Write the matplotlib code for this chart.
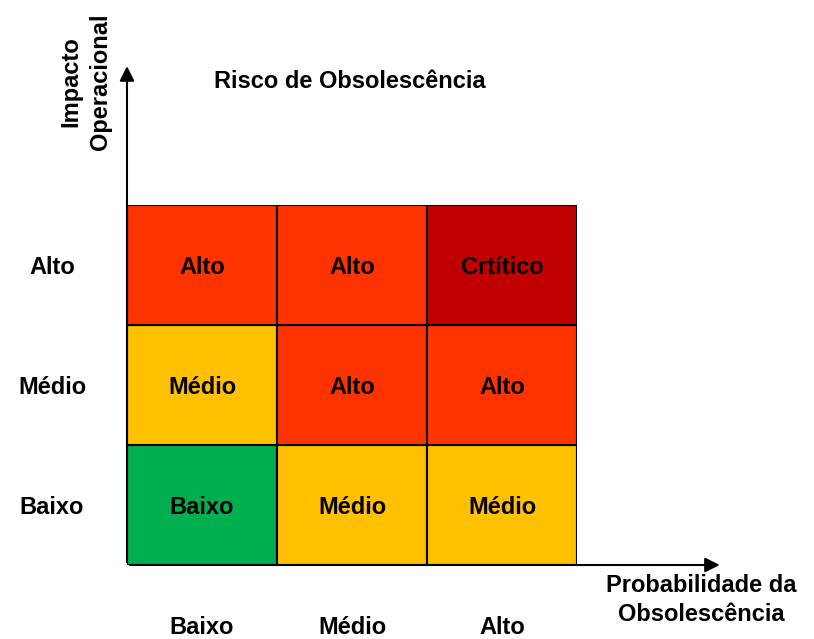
import matplotlib
matplotlib.use('Agg')
import matplotlib.pyplot as plt
from matplotlib.patches import Rectangle

# risk matrix data
prob_labels = ['Baixo', 'Médio', 'Alto']      # columns (x)
impact_labels = ['Baixo', 'Médio', 'Alto']    # rows (y), bottom to top
cell_text = [['Baixo', 'Médio', 'Médio'],
             ['Médio', 'Alto', 'Alto'],
             ['Alto', 'Alto', 'Crtítico']]
level_colors = {'Baixo': '#00B050', 'Médio': '#FFC000',
                'Alto': '#FF3300', 'Crtítico': '#C00000'}

plt.rcParams['font.family'] = ['Liberation Sans', 'DejaVu Sans']
plt.rcParams['font.weight'] = 'bold'
fs = 17

fig = plt.figure(figsize=(8.14, 6.39), dpi=100)
W, H = 814, 639
ax = fig.add_axes([127 / W, 74 / H, 450 / W, 360 / H])
ax.set_xlim(0, 3)
ax.set_ylim(0, 3)
ax.axis('off')

dy = 0.022  # small nudge so text sits like the original
for r in range(3):
    for c in range(3):
        t = cell_text[r][c]
        ax.add_patch(Rectangle((c, r), 1, 1, facecolor=level_colors[t],
                               edgecolor='black', linewidth=1.5))
        ax.text(c + 0.5, r + 0.5 - dy, t, ha='center', va='center', fontsize=fs)

# row and column labels
for i, lab in enumerate(impact_labels):
    ax.text(-0.5, i + 0.5 - dy, lab, ha='center', va='center', fontsize=fs, clip_on=False)
for i, lab in enumerate(prob_labels):
    ax.text(i + 0.5, -0.52, lab, ha='center', va='center', fontsize=fs, clip_on=False)

# axis arrows
ax.annotate('', xy=(0, 4.18), xytext=(0, 0), annotation_clip=False,
            arrowprops=dict(arrowstyle='-|>', color='black', lw=1.5, mutation_scale=22))
ax.annotate('', xy=(3.97, 0), xytext=(0, 0), annotation_clip=False,
            arrowprops=dict(arrowstyle='-|>', color='black', lw=1.5, mutation_scale=22))

fig.text(350 / W, 1 - 81 / H, 'Risco de Obsolescência', ha='center', va='center', fontsize=fs)
fig.text(86 / W, 1 - 82 / H, 'Impacto\nOperacional', ha='center', va='center',
         rotation=90, fontsize=fs, linespacing=1.35)
fig.text(701 / W, 1 - 600 / H, 'Probabilidade da\nObsolescência', ha='center', va='center',
         fontsize=fs, linespacing=1.35)

fig.savefig('out.png', dpi=100)
